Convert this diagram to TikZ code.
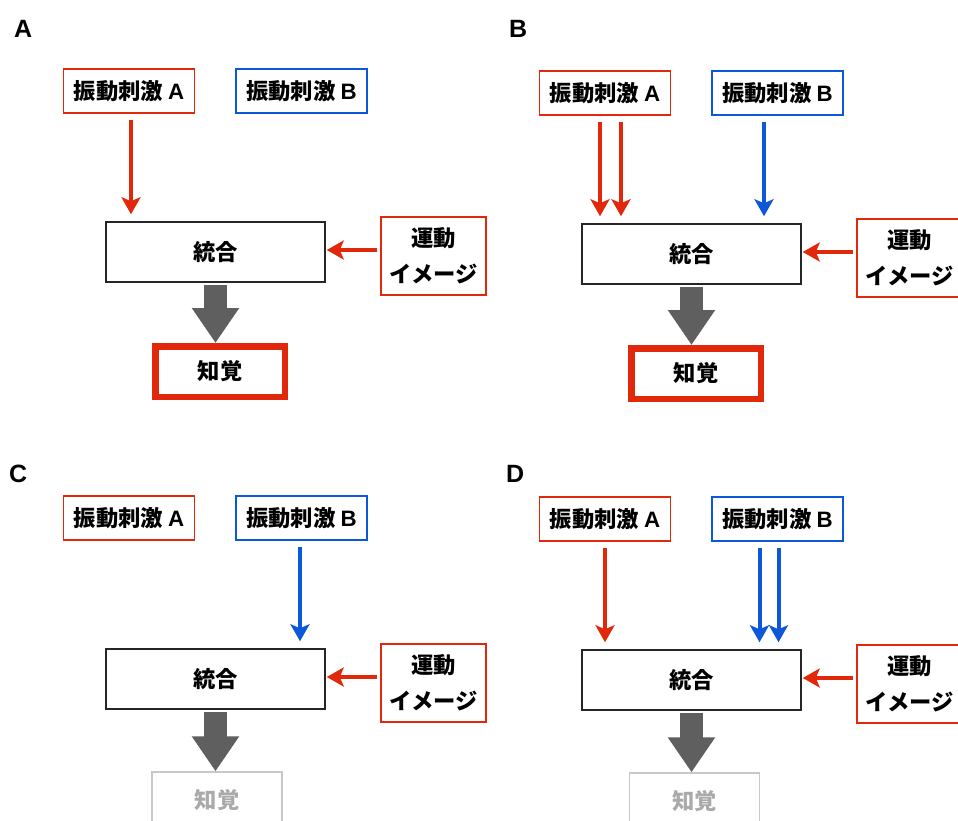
\documentclass[tikz,border=0pt]{standalone}
\usepackage{fontspec}
\setmainfont{Liberation Sans}
\newfontfamily\jp{Noto Sans CJK JP}
\usetikzlibrary{arrows.meta,calc}

\definecolor{vred}{RGB}{226,40,10}
\definecolor{vblue}{RGB}{12,88,216}
\definecolor{blockgray}{RGB}{95,95,95}
\definecolor{fadegray}{RGB}{200,200,200}
\definecolor{fadetext}{RGB}{170,170,170}

% Latin letters set in the sans main font
\newcommand\latin[1]{{\rmfamily\bfseries #1}}

\tikzset{
  txt/.style={font=\jp\bfseries\fontsize{22.3}{36}\selectfont, inner sep=0pt},
  stimA/.style={txt, draw=vred, line width=1.2pt, minimum width=131pt, minimum height=44pt},
  stimB/.style={txt, draw=vblue, line width=1.2pt, minimum width=131pt, minimum height=44pt},
  integ/.style={txt, draw=black!85, line width=1.5pt, minimum width=219pt, minimum height=60pt},
  motor/.style={txt, draw=vred, line width=1.2pt, minimum width=105pt, minimum height=78pt, align=center},
  percept/.style={txt, draw=vred, line width=6.5pt, minimum width=129.5pt, minimum height=50.5pt},
  perceptfaint/.style={txt, text=fadetext, draw=fadegray, line width=1.3pt, minimum width=130pt, minimum height=56pt},
  redarrow/.style={draw=vred, line width=4pt, -{Stealth[length=17pt,width=19pt,inset=4pt]},
    shorten <=6pt, shorten >=7pt},
  bluearrow/.style={redarrow, draw=vblue},
  sidearrow/.style={draw=vred, line width=4pt, -{Stealth[length=17pt,width=19pt,inset=4pt]},
    shorten <=3pt, shorten >=1pt},
  blockarrow/.style={draw=blockgray, line width=22.5pt, -{Triangle[length=35pt,width=45pt]},
    shorten <=2.5pt},
  panellabel/.style={font=\bfseries\fontsize{25}{30}\selectfont, anchor=base west, inner sep=0pt}
}

% common boxes of one panel: two stimuli, integration, motor image
\newcommand\panelboxes{%
  \node[stimA] (sa) at (129,91) {振動刺激 \latin{A}};
  \node[stimB] (sb) at (301.5,91) {振動刺激 \latin{B}};
  \node[integ] (int) at (215.5,252) {統合};
  \node[motor] (mi) at (433.5,256) {運動\\イメージ};
  \draw[sidearrow] ($(mi.west |- int.east)+(0,-2)$) -- ($(int.east)+(0,-2)$);
}

\begin{document}
\begin{tikzpicture}[x=1pt,y=-1pt]
  \clip (0,0) rectangle (958,821);
  \fill[white] (0,0) rectangle (958,821);

  % panel A
  \node[panellabel] (labA) at (14,38) {A};
  \begin{scope}[name prefix=a-]
    \panelboxes
    \node[percept] (pa) at (220,371.5) {知覚};
    \draw[redarrow] ([xshift=2pt]sa.south) -- ([xshift=2pt]sa.south |- int.north);
    \draw[blockarrow] (int.south) -- (int.south |- pa.north);
  \end{scope}

  % panel B
  \node[panellabel] (labB) at (509,38) {B};
  \begin{scope}[shift={(476,2)}, name prefix=b-]
    \panelboxes
    \node[percept] (pa) at (220,371.5) {知覚};
    \draw[redarrow] ([xshift=-5pt]sa.south) -- ([xshift=-5pt]sa.south |- int.north);
    \draw[redarrow] ([xshift=16pt]sa.south) -- ([xshift=16pt]sa.south |- int.north);
    \draw[bluearrow] ([xshift=-13.5pt]sb.south) -- ([xshift=-13.5pt]sb.south |- int.north);
    \draw[blockarrow] (int.south) -- (int.south |- pa.north);
  \end{scope}

  % panel C
  \node[panellabel] (labC) at (9,482) {C};
  \begin{scope}[shift={(0,427)}, name prefix=c-]
    \panelboxes
    \node[perceptfaint] (pc) at (217,373) {知覚};
    \draw[bluearrow] ([xshift=-1.5pt]sb.south) -- ([xshift=-1.5pt]sb.south |- int.north);
    \draw[blockarrow] (int.south) -- (int.south |- pc.north);
  \end{scope}

  % panel D
  \node[panellabel] (labD) at (506,482) {D};
  \begin{scope}[shift={(476,428)}, name prefix=d-]
    \panelboxes
    \node[perceptfaint] (pc) at (218.5,373) {知覚};
    \draw[redarrow] (sa.south) -- (sa.south |- int.north);
    \draw[bluearrow] ([xshift=-18pt]sb.south) -- ([xshift=-18pt]sb.south |- int.north);
    \draw[bluearrow] ([xshift=1pt]sb.south) -- ([xshift=1pt]sb.south |- int.north);
    \draw[blockarrow] (int.south) -- (int.south |- pc.north);
  \end{scope}
\end{tikzpicture}
\end{document}
